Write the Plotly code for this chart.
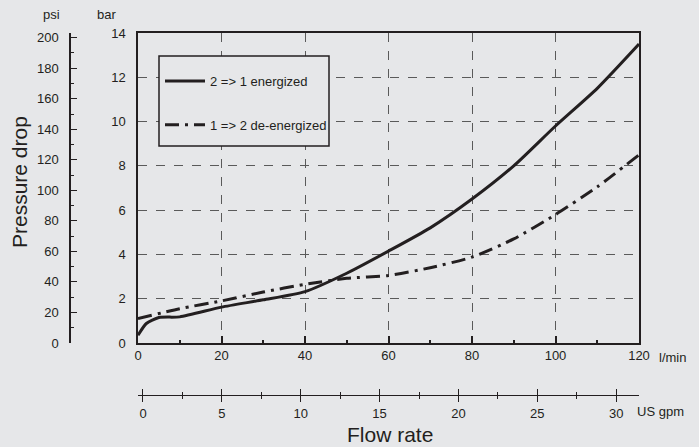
import plotly.graph_objects as go

W, H = 699, 447
BG = "#e6e7e9"
INK = "#231f20"
GRID = "#5a5a5a"
FONT = "Liberation Sans, Arial, sans-serif"

# data (flow in l/min, pressure drop in bar)
flow_energized = [0, 2, 5, 10, 20, 30, 40, 50, 60, 70, 80, 90, 100, 110, 120]
dp_energized = [0.35, 0.88, 1.15, 1.18, 1.62, 1.95, 2.32, 3.15, 4.15, 5.2, 6.5, 8.0, 9.8, 11.5, 13.5]

flow_deenergized = [0, 10, 20, 30, 40, 50, 60, 70, 80, 90, 100, 110, 120]
dp_deenergized = [1.1, 1.55, 1.9, 2.3, 2.65, 2.92, 3.05, 3.4, 3.88, 4.7, 5.8, 7.05, 8.5]

bar_ticks = [0, 2, 4, 6, 8, 10, 12, 14]
flow_ticks = [0, 20, 40, 60, 80, 100, 120]
psi_ticks = [0, 20, 40, 60, 80, 100, 120, 140, 160, 180, 200]
gpm_ticks = [0, 5, 10, 15, 20, 25, 30]

PSI_PER_BAR = 14.5038
LPM_PER_GPM = 3.78541

# plot area in pixels
x0px, x1px = 138, 639
y0px, y1px = 33, 343
xdom = [x0px / W, x1px / W]
ydom = [1 - y1px / H, 1 - y0px / H]

fig = go.Figure()
fig.add_trace(go.Scatter(
    x=flow_energized, y=dp_energized, mode="lines",
    name="2 => 1 energized",
    line=dict(color=INK, width=3, shape="spline", smoothing=0.6),
    legendgroup="a",
))
fig.add_trace(go.Scatter(
    x=flow_deenergized, y=dp_deenergized, mode="lines",
    name="1 => 2 de-energized",
    line=dict(color=INK, width=3, dash="14px,6px,3px,6px", shape="spline", smoothing=0.6),
    legendgroup="b",
))

# gpm axis geometry: line from px 133 to 635, 0 gpm at px 138
px_per_lpm = (x1px - x0px) / 120.0
px_per_gpm = px_per_lpm * LPM_PER_GPM
g_left, g_right = 133, 635
gpm_range = [-(x0px - g_left) / px_per_gpm, (g_right - x0px) / px_per_gpm]
gdom = [g_left / W, g_right / W]
gpos = 1 - 395 / H

psi_pos = 70 / W

fig.update_layout(
    width=W, height=H,
    margin=dict(l=0, r=0, t=0, b=0, autoexpand=False),
    paper_bgcolor=BG, plot_bgcolor=BG,
    font=dict(family=FONT, size=13, color=INK),
    showlegend=True,
    legend=dict(
        x=160 / W, y=1 - 66 / H, xanchor="left", yanchor="top",
        bgcolor="rgba(0,0,0,0)", borderwidth=0,
        font=dict(size=13, color=INK),
        itemwidth=40, tracegroupgap=24,
        traceorder="grouped",
    ),
    xaxis=dict(
        domain=xdom, range=[0, 120], tickvals=flow_ticks, automargin=False,
        showline=True, linecolor=INK, linewidth=1.5, mirror=True,
        ticks="inside", ticklen=7, tickcolor=INK, tickwidth=1.5,
        minor=dict(dtick=10, tick0=0, ticks="inside", ticklen=3, tickcolor=INK, showgrid=False),
        showgrid=True, gridcolor=GRID, griddash="dash", gridwidth=1,
        zeroline=False, tickfont=dict(size=13), anchor="y",
    ),
    yaxis=dict(
        domain=ydom, range=[0, 14], tickvals=bar_ticks, automargin=False,
        showline=True, linecolor=INK, linewidth=1.5, mirror=True,
        ticks="", showgrid=True, gridcolor=GRID, griddash="dash", gridwidth=1,
        zeroline=False, tickfont=dict(size=13), ticklabelstandoff=8, anchor="x",
    ),
    yaxis2=dict(
        domain=ydom, range=[0, 14 * PSI_PER_BAR], tickvals=psi_ticks, automargin=False,
        anchor="free", position=psi_pos, overlaying="y", side="left",
        showline=True, linecolor=INK, linewidth=1.5,
        ticks="inside", ticklen=6, tickcolor=INK, tickwidth=1.2,
        minor=dict(dtick=10, tick0=0, ticks="inside", ticklen=3, tickcolor=INK, showgrid=False),
        showgrid=False, zeroline=False, tickfont=dict(size=13),
        ticklabelstandoff=8,
    ),
    xaxis3=dict(
        domain=gdom, range=gpm_range, tickvals=gpm_ticks, automargin=False,
        anchor="free", position=gpos, overlaying="x",
        showline=True, linecolor=INK, linewidth=1.2,
        ticks="outside", ticklen=6, tickcolor=INK, tickwidth=1.2,
        minor=dict(dtick=2.5, tick0=0, ticks="outside", ticklen=3, tickcolor=INK, showgrid=False),
        showgrid=False, zeroline=False, tickfont=dict(size=13),
    ),
    xaxis4=dict(
        domain=gdom, range=gpm_range, tickvals=gpm_ticks, showticklabels=False, automargin=False,
        anchor="free", position=gpos, overlaying="x",
        showline=False,
        ticks="inside", ticklen=6, tickcolor=INK, tickwidth=1.2,
        minor=dict(dtick=2.5, tick0=0, ticks="inside", ticklen=3, tickcolor=INK, showgrid=False),
        showgrid=False, zeroline=False,
    ),
)

# legend frame
fig.add_shape(type="rect", xref="paper", yref="paper",
              x0=159 / W, x1=329 / W, y0=1 - 146 / H, y1=1 - 56 / H,
              line=dict(color=INK, width=1.5), fillcolor=BG, layer="above")

# dummy invisible traces to activate secondary axes
fig.add_trace(go.Scatter(x=[None], y=[None], xaxis="x", yaxis="y2", showlegend=False, hoverinfo="skip"))
fig.add_trace(go.Scatter(x=[None], y=[None], xaxis="x3", yaxis="y", showlegend=False, hoverinfo="skip"))
fig.add_trace(go.Scatter(x=[None], y=[None], xaxis="x4", yaxis="y", showlegend=False, hoverinfo="skip"))

ann = [
    dict(text="psi", x=41, y=15, size=13, anchor="left"),
    dict(text="bar", x=95, y=15, size=13, anchor="left"),
    dict(text="l/min", x=657, y=357, size=13, anchor="left"),
    dict(text="US gpm", x=635, y=411, size=13, anchor="left"),
    dict(text="Flow rate", x=345, y=434, size=21, anchor="left"),
]
for a in ann:
    fig.add_annotation(text=a["text"], xref="paper", yref="paper",
                       x=a["x"] / W, y=1 - a["y"] / H, showarrow=False,
                       font=dict(size=a["size"], color=INK, family=FONT),
                       xanchor=a["anchor"], yanchor="middle")
fig.add_annotation(text="Pressure drop", xref="paper", yref="paper",
                   x=20 / W, y=1 - 182 / H, showarrow=False, textangle=-90,
                   font=dict(size=21, color=INK, family=FONT),
                   xanchor="center", yanchor="middle")

fig.write_html("out.html", config={"displayModeBar": False},
               post_script="document.body.style.margin='0';document.body.style.overflow='hidden';")
